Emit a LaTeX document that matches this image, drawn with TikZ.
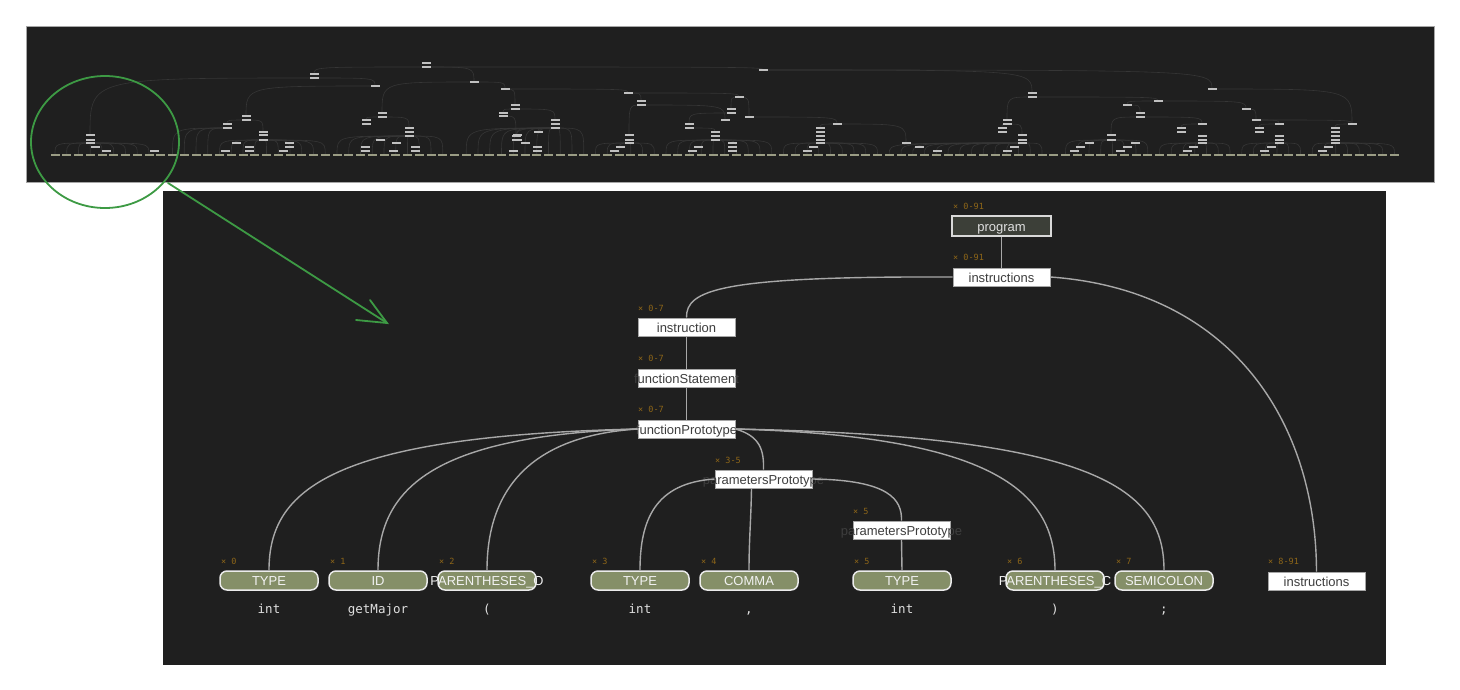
\documentclass[tikz,border=0pt]{standalone}
\usepackage{fontspec}
\setmainfont{Liberation Sans}
\newfontfamily\monofont{DejaVu Sans Mono}
\definecolor{panel}{HTML}{1F1F1F}
\definecolor{edgegray}{HTML}{A8A8A8}
\definecolor{tagcol}{HTML}{8E6618}
\definecolor{leafol}{HTML}{858F68}
\definecolor{progfill}{HTML}{3C3F38}
\definecolor{boxtext}{HTML}{3E3E3E}
\definecolor{mmedgecol}{HTML}{363636}
\definecolor{mmleaf}{HTML}{9A9C84}
\definecolor{mmnodecol}{HTML}{C0C0C0}
\definecolor{markgreen}{HTML}{3D9A44}
\tikzset{
  wbox/.style={rectangle, draw=gray!70, line width=1pt, fill=white, minimum width=97pt, minimum height=18pt, inner sep=0pt},
  wtext/.style={text=boxtext, font=\fontsize{13}{15}\selectfont, inner sep=0pt, text height=10pt, text depth=0pt},
  progbox/.style={rectangle, draw=white!85!black, line width=1.5pt, fill=progfill, minimum width=99pt, minimum height=20pt, inner sep=0pt},
  progtext/.style={text=white!88!black, font=\fontsize{13}{15}\selectfont, inner sep=0pt, text height=10pt, text depth=0pt},
  leafbox/.style={rectangle, rounded corners=7pt, draw=white!92!black, line width=1.5pt, fill=leafol, minimum width=98pt, minimum height=19pt, inner sep=0pt},
  leaftext/.style={text=white!95!black, font=\fontsize{13}{15}\selectfont, inner sep=0pt, text height=10pt, text depth=0pt},
  tag/.style={text=tagcol, font=\monofont\fontsize{8.5}{10}\selectfont, anchor=west, inner sep=0pt},
  tok/.style={text=white!88!black, font=\monofont\fontsize{12.5}{14}\selectfont, inner sep=0pt},
  edge/.style={draw=edgegray, line width=1.4pt},
  mmedge/.style={draw=mmedgecol, line width=0.6pt},
  mmnode/.style={rectangle, fill=mmnodecol, minimum width=9pt, minimum height=2.6pt, inner sep=0pt},
  mmleafs/.style={rectangle, fill=mmleaf, minimum width=9pt, minimum height=2.2pt, inner sep=0pt},
  green/.style={draw=markgreen, line width=1.8pt, line cap=round}
}
\begin{document}
\begin{tikzpicture}[x=1pt,y=-1pt]
\useasboundingbox (0,0) rectangle (1460,689);
\fill[white] (0,0) rectangle (1460,689);
% ---------- minimap panel ----------
\draw[fill=panel, draw=gray!70, line width=0.8pt] (26,26) rectangle (1434,182);
% minimap edges (parent -> child)
\foreach \a/\b/\c/\d in {426/67/314/74, 426/67/763/70, 314/78/90/135, 314/78/375/86, 375/86/246/116,
  426/67/474/82, 474/82/382/113, 474/82/505/89, 505/89/515/105, 505/89/628/93, 515/109/555/120,
  515/109/503/113, 503/116/516/136, 628/93/641/101, 628/93/739/97, 641/105/629/135, 641/105/725/120,
  739/97/731/109, 739/97/749/117, 731/113/689/124, 749/117/837/124, 837/124/820/128, 837/124/906/143,
  763/70/1212/89, 763/70/1032/93, 1032/97/1007/120, 1032/97/1158/101, 1158/101/1127/105,
  1158/101/1246/109, 1127/105/1140/113, 1140/117/1111/135, 1140/117/1202/124, 1246/109/1256/120,
  1256/120/1279/124, 1256/120/1352/124, 1212/89/1352/124, 246/120/227/124, 246/120/263/132,
  382/117/366/120, 382/117/409/128, 689/128/715/132, 1007/124/1002/128, 1007/124/1022/135,
  1202/124/1181/128, 1279/124/1259/128, 1352/124/1335/128, 555/128/517/135, 555/128/538/132}
  {\draw[mmedge] (\a,\b) .. controls (\c,\b) .. (\c,\d);}
% minimap hub-to-leaf arcs
\foreach \hx/\hy/\lo/\hi in {90/143/0/8, 227/128/10/13, 263/140/14/23, 409/136/24/33, 555/128/35/45,
  629/143/46/51, 715/140/52/61, 820/143/62/70, 1022/143/71/84, 1111/140/86/93, 1202/143/94/100,
  1279/143/101/106, 1335/143/107/114}
  {\foreach \i in {\lo,...,\hi}{\pgfmathsetmacro\lx{55+11.75*\i}
     \draw[mmedge] (\hx,\hy) .. controls (\lx,\hy) .. (\lx,154);}}
% minimap leaves
\foreach \i in {0,...,114}{\node[mmleafs] at ({55+11.75*\i},155) {};}
% minimap internal nodes
\foreach \x/\y in {426/63,426/67,314/74,314/78,375/86,474/82,505/89,515/105,515/109,503/113,503/116,
  246/116,246/120,227/124,227/128,263/132,263/135,263/140,236/143,249/147,249/151,225/151,289/143,
  289/147,283/151,382/113,382/117,366/120,366/124,409/128,409/132,409/136,380/140,396/143,365/147,
  365/151,393/151,415/147,415/151,516/136,516/140,513/151,90/135,90/140,90/143,95/147,106/151,154/151,
  763/70,555/120,555/124,555/128,538/132,517/135,517/140,525/143,537/147,537/151,628/93,641/101,
  641/105,739/97,731/109,731/113,749/117,725/120,689/124,689/128,715/132,715/136,715/140,698/147,
  692/151,732/143,732/147,732/151,629/135,629/140,629/143,620/147,614/151,837/124,820/128,820/132,
  820/136,820/140,820/143,813/147,807/151,906/143,919/147,937/151,1212/89,1032/93,1032/97,1158/101,
  1127/105,1246/109,1140/113,1140/117,1007/120,1007/124,1002/128,1002/132,1022/135,1022/140,1022/143,
  1014/147,1007/151,1111/135,1111/140,1089/143,1080/147,1074/151,1135/143,1127/147,1120/151,1202/124,
  1181/128,1181/132,1202/136,1202/140,1202/143,1193/147,1187/151,1256/120,1279/124,1259/128,1259/132,
  1279/136,1279/140,1279/143,1271/147,1264/151,1352/124,1335/128,1335/132,1335/136,1335/140,1335/143,
  1328/147,1322/151}
  {\node[mmnode] at (\x,\y) {};}
% ---------- detail panel ----------
\fill[panel] (163,191) rectangle (1386,665);
% nodes
\node[progbox] (prog) at (1001.5,226) {};
\node[progtext] at (prog) {program};
\node[wbox] (ins) at (1001.5,277) {};
\node[wtext] at (ins) {instructions};
\node[wbox] (instr) at (686.5,327) {};
\node[wtext] at (instr) {instruction};
\node[wbox] (fs) at (686.5,378) {};
\node[wtext] at (fs) {functionStatement};
\node[wbox] (fp) at (686.5,429) {};
\node[wtext] at (fp) {functionPrototype};
\node[wbox] (pp1) at (763.5,479) {};
\node[wtext] at (pp1) {parametersPrototype};
\node[wbox] (pp2) at (901.5,530) {};
\node[wtext] at (pp2) {parametersPrototype};
\node[wbox] (ins2) at (1316.5,581) {};
\node[wtext] at (ins2) {instructions};
\foreach \n/\x/\t in {l0/269/TYPE, l1/378/ID, l2/487/PARENTHESES\_O, l3/640/TYPE, l4/749/COMMA,
  l5/902/TYPE, l6/1055/PARENTHESES\_C, l7/1164/SEMICOLON}
  {\node[leafbox] (\n) at (\x,580.5) {};}
% edges
\draw[edge] (prog.south) -- (ins.north);
\draw[edge] (ins.west) .. controls (720,276) and (686,290) .. (instr.north);
\draw[edge] (ins.east) .. controls (1230,290) and (1316,420) .. (ins2.north);
\draw[edge] (instr.south) -- (fs.north);
\draw[edge] (fs.south) -- (fp.north);
\draw[edge] (fp.west) .. controls (330,436) and (269,490) .. (l0.north);
\draw[edge] (fp.west) .. controls (430,436) and (378,490) .. (l1.north);
\draw[edge] (fp.west) .. controls (530,436) and (487,490) .. (l2.north);
\draw[edge] (fp.east) .. controls (760,436) and (764,450) .. (pp1.north);
\draw[edge] (fp.east) .. controls (990,436) and (1055,490) .. (l6.north);
\draw[edge] (fp.east) .. controls (1100,436) and (1164,490) .. (l7.north);
\draw[edge] (pp1.west) .. controls (655,483) and (640,520) .. (l3.north);
\draw[edge] ([xshift=-12pt]pp1.south) .. controls (751,520) and (749,540) .. (l4.north);
\draw[edge] (pp1.east) .. controls (890,480) and (902,500) .. (pp2.north);
\draw[edge] (pp2.south) -- (l5.north);
% leaf texts
\foreach \n/\t in {l0/TYPE, l1/ID, l2/PARENTHESES\_O, l3/TYPE, l4/COMMA, l5/TYPE, l6/PARENTHESES\_C, l7/SEMICOLON}
  {\node[leaftext] at (\n) {\t};}
% tags
\node[tag] at (953,206) {× 0-91};
\node[tag] at (953,257) {× 0-91};
\node[tag] at (638,308) {× 0-7};
\node[tag] at (638,358) {× 0-7};
\node[tag] at (638,409) {× 0-7};
\node[tag] at (715,460) {× 3-5};
\node[tag] at (853,511) {× 5};
\foreach \x/\t in {221/0, 330/1, 439/2, 592/3, 701/4, 854/5, 1007/6, 1116/7}
  {\node[tag] at (\x,561) {× \t};}
\node[tag] at (1268,561) {× 8-91};
% tokens
\foreach \n/\t in {l0/int, l1/getMajor, l2/(, l3/int, l4/{,}, l5/int, l6/), l7/;}
  {\node[tok, anchor=base] at ([yshift=-33pt]\n.center) {\t};}
% ---------- green annotation ----------
\draw[green] (105,142) ellipse [x radius=74pt, y radius=66pt];
\coordinate (gstart) at (168,183);
\coordinate (gtip) at (387,323);
\coordinate (gb1) at (356,320);
\coordinate (gb2) at (370,300);
\draw[green] (gstart) -- (gtip);
\draw[green] (gb1) -- (gtip) -- (gb2);
\end{tikzpicture}
\end{document}
